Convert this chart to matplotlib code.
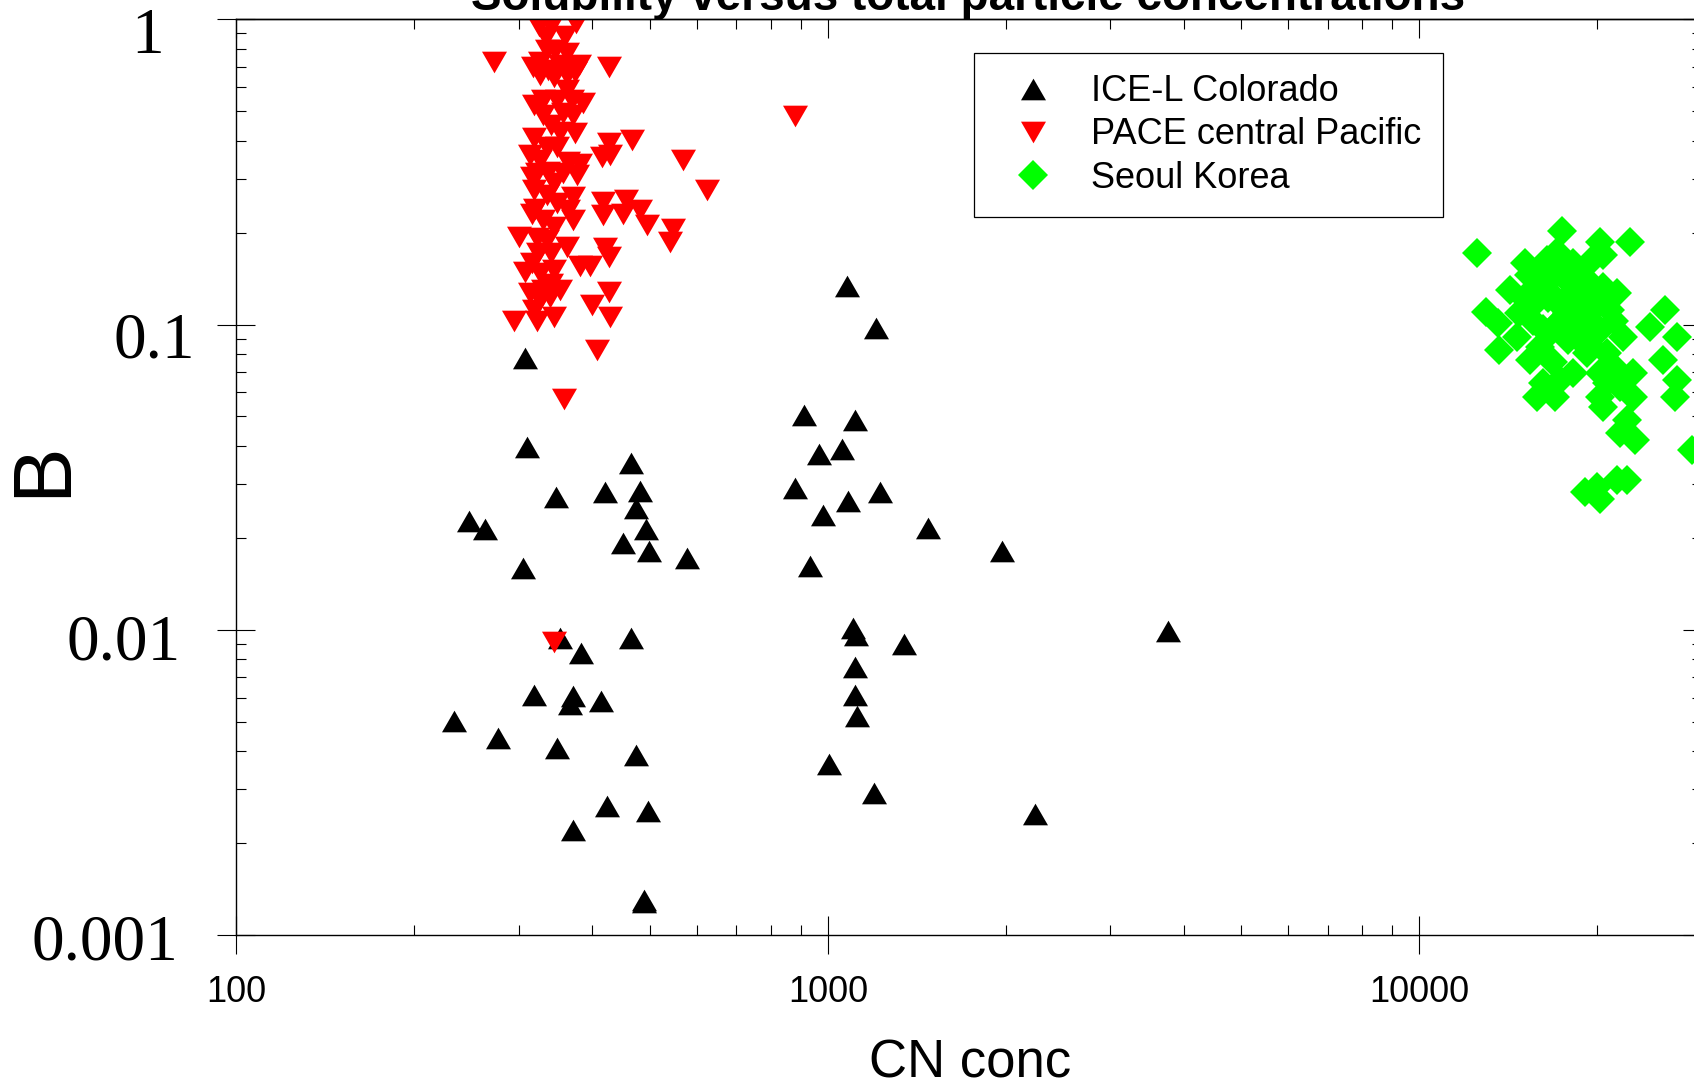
import numpy as np
import matplotlib.pyplot as plt
from matplotlib.ticker import NullFormatter

plt.rcParams['font.family'] = ['Liberation Sans', 'DejaVu Sans']

# ICE-L Colorado
ice_cn = [308, 310, 465, 347.5, 419.5, 481, 474, 247, 263, 492, 451, 499, 579, 305,
          1079, 1208, 911, 1110, 966, 1056, 880, 1083, 1224, 983, 1475, 1970, 934,
          1104, 1116, 1345, 1113, 1113, 1119, 1005, 1197, 2240, 3763,
          352, 383, 465, 318, 371, 367, 413, 233, 277, 349, 473, 424, 496, 371, 489, 489]
ice_b = [0.0775, 0.0398, 0.0351, 0.0273, 0.0283, 0.0285, 0.0250, 0.0228, 0.0214, 0.0214,
         0.0192, 0.0181, 0.0172, 0.0159,
         0.134, 0.0973, 0.0507, 0.0486, 0.0378, 0.0391, 0.0291, 0.0264, 0.0283, 0.0237,
         0.0215, 0.0181, 0.0162,
         0.0101, 0.00964, 0.00897, 0.00754, 0.00613, 0.00521, 0.00363, 0.00291, 0.00250, 0.00989,
         0.00937, 0.00837, 0.00937, 0.00611, 0.00607, 0.00571, 0.00584, 0.00503, 0.00441,
         0.00411, 0.00390, 0.00265, 0.00255, 0.00221, 0.00130, 0.00128]

# PACE central Pacific
pace_cn = [325, 341, 375, 334, 360, 273, 426, 317, 326, 337, 353, 367, 379, 344, 362, 374, 326,
           318, 330, 348, 369, 386, 330, 357, 371, 341, 318, 374, 353,
           426, 466, 415, 428, 568, 314, 326, 364, 381, 316, 337, 357, 376, 624, 318, 335, 371,
           320, 364, 371, 417, 456, 417, 451, 481, 495, 547, 540, 300, 322, 335, 362, 420, 426,
           341, 381, 396, 308, 326, 344, 314, 330, 339, 426, 399, 428, 295, 322, 344, 407, 358,
           344, 880,
           316, 330, 348, 344, 324, 316, 353, 326, 318, 341, 348, 335, 322, 344, 362, 346, 362, 335]
pace_b = [0.951, 0.951, 0.975, 0.873, 0.882, 0.726, 0.700, 0.700, 0.726, 0.682, 0.708, 0.700,
          0.708, 0.649, 0.657, 0.674, 0.657,
          0.524, 0.544, 0.544, 0.544, 0.530, 0.486, 0.492, 0.486, 0.450, 0.407, 0.423, 0.428,
          0.392, 0.402, 0.355, 0.359, 0.346, 0.359, 0.346, 0.342, 0.337, 0.305, 0.317, 0.313,
          0.309, 0.276, 0.276, 0.266, 0.262,
          0.240, 0.237, 0.220, 0.253, 0.256, 0.228, 0.231, 0.237, 0.212, 0.205, 0.187, 0.194,
          0.192, 0.189, 0.180, 0.178, 0.167,
          0.171, 0.155, 0.155, 0.149, 0.147, 0.151, 0.127, 0.130, 0.123, 0.128, 0.116, 0.106,
          0.103, 0.103, 0.106, 0.0825, 0.0569,
          0.00913, 0.484,
          0.231, 0.220, 0.250, 0.209, 0.171, 0.159, 0.130, 0.120, 0.112, 0.136, 0.383, 0.383,
          0.313, 0.290, 0.587, 0.793, 0.774, 0.793]

# Seoul Korea
seoul_cn = [12500, 17400, 20160, 22710, 19560, 20470, 12970, 13600, 13650, 14230, 15090,
            16420, 17070, 18210, 21560, 20470, 22130, 21290, 23010, 21850, 20470, 22420,
            23160, 21850, 15790, 16960, 16210, 15390, 18210, 19190, 17860, 16630, 15590,
            17070, 18700, 17750, 16000, 19190, 20210, 20210, 20740, 14710, 26020, 24550,
            27230, 25860, 27230, 27060, 28870, 19060, 20210, 21560, 22420, 19950, 14610,
            16850, 18700,
            16630, 18450, 17290, 19190, 20740, 16000, 17290, 17750, 19690, 20210, 23010, 21290,
            15300, 16100, 16900, 17600, 18300, 19000, 15700, 16500, 17300, 18000, 18800,
            19600, 16200, 17000, 17800, 18600, 19400, 15000, 20000, 21000]
seoul_b = [0.172, 0.203, 0.187, 0.187, 0.163, 0.169, 0.110, 0.101, 0.0825, 0.130, 0.159,
           0.163, 0.173, 0.159, 0.127, 0.133, 0.0912, 0.103, 0.0692, 0.0626, 0.0538, 0.0487,
           0.0418, 0.0440, 0.0580, 0.0580, 0.0642, 0.0765, 0.0692, 0.0804, 0.0889, 0.0935,
           0.103, 0.120, 0.114, 0.140, 0.130, 0.140, 0.0959, 0.0692, 0.0642, 0.109, 0.112,
           0.0985, 0.0912, 0.0765, 0.0658, 0.0580, 0.0388, 0.0283, 0.0269, 0.0309, 0.0309,
           0.0294, 0.0912, 0.0755, 0.0959,
           0.140, 0.130, 0.103, 0.103, 0.0804, 0.0846, 0.0658, 0.109, 0.123, 0.0580, 0.0580, 0.0728,
           0.145, 0.150, 0.147, 0.143, 0.150, 0.128, 0.118, 0.122, 0.116, 0.125, 0.108,
           0.111, 0.097, 0.100, 0.098, 0.090, 0.086, 0.122, 0.118, 0.112]

xticks = [100, 1000, 10000]
xtick_labels = ['100', '1000', '10000']
yticks = [1, 0.1, 0.01, 0.001]
ytick_labels = ['1', '0.1', '0.01', '0.001']

# equilateral triangles centred on their bounding box
tri_up = [(-0.5, -0.433), (0.5, -0.433), (0.0, 0.433)]
tri_down = [(-0.5, 0.433), (0.5, 0.433), (0.0, -0.433)]

fig = plt.figure(figsize=(16.94, 10.86), dpi=100)
ax = fig.add_axes([0.1395, 0.139, 0.865, 0.8432])

ax.plot(ice_cn, ice_b, ls='none', marker=tri_up, ms=18, color='black', mew=0,
        label='ICE-L Colorado')
ax.plot(pace_cn, pace_b, ls='none', marker=tri_down, ms=18, color='#ff0000', mew=0,
        label='PACE central Pacific')
ax.plot(seoul_cn, seoul_b, ls='none', marker='D', ms=15.5, color='#00ff00', mew=0,
        label='Seoul Korea')

ax.set_xscale('log')
ax.set_yscale('log')
ax.set_xlim(100, 30000)
ax.set_ylim(0.001, 1)

for s in ax.spines.values():
    s.set_linewidth(1.0)

ax.set_xticks(xticks, xtick_labels)
ax.xaxis.set_minor_formatter(NullFormatter())
ax.tick_params(which='major', direction='inout', length=27.4, width=0.8,
               labelsize=26, pad=15)
ax.tick_params(which='minor', direction='in', length=7.2, width=0.8)
ax.tick_params(axis='y', labelleft=False)

# top and right ticks point inward only
top = ax.secondary_xaxis('top')
right = ax.secondary_yaxis('right')
for sec, axis in ((top, top.xaxis), (right, right.yaxis)):
    axis.set_major_formatter(NullFormatter())
    axis.set_minor_formatter(NullFormatter())
    sec.tick_params(which='major', direction='in', length=13.7, width=0.8)
    sec.tick_params(which='minor', direction='in', length=7.2, width=0.8)
    for s in sec.spines.values():
        s.set_linewidth(1.0)

# serif y labels, each nudged a little
ylab_dx = [-72, -41, -56, -58]
ylab_dy = [-34, -33, -30, -24]
for v, t, dx, dy in zip(yticks, ytick_labels, ylab_dx, ylab_dy):
    ax.annotate(t, xy=(0, v), xycoords=('axes fraction', 'data'),
                xytext=(dx, dy), textcoords='offset pixels',
                ha='right', va='baseline', fontsize=47,
                family='Liberation Serif', annotation_clip=False)

fig.text(0.5717, 1 - 10 / 1086, 'Solubility versus total particle concentrations',
         ha='center', va='baseline', fontsize=33, fontweight='bold')
fig.text(0.5726, 1 - 1078 / 1086, 'CN conc', ha='center', va='baseline', fontsize=38)
fig.text(43 / 1694, 1 - 469.5 / 1086, 'B', rotation=90, ha='center', va='center',
         fontsize=60)

leg = ax.legend(loc='upper left', bbox_to_anchor=(974.3 / 1694, 1 - 52.7 / 1086),
                bbox_transform=fig.transFigure, borderaxespad=0, fontsize=26,
                fancybox=False, edgecolor='black', framealpha=1, borderpad=0.6,
                labelspacing=0.225, handlelength=2.05, handletextpad=0.58, numpoints=1)
leg.get_frame().set_linewidth(0.9)

fig.savefig('out.png', dpi=100)
